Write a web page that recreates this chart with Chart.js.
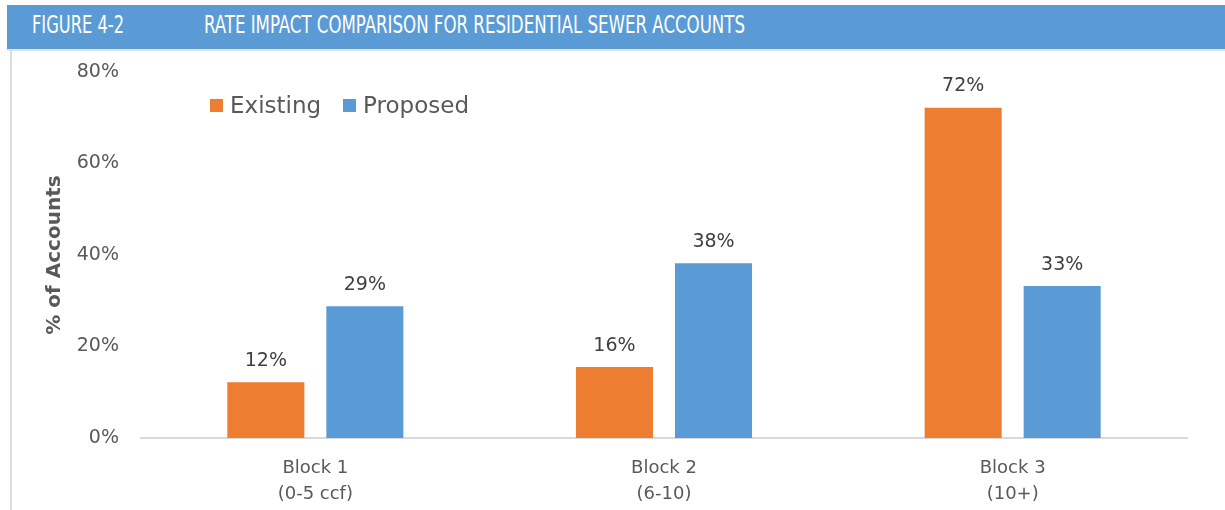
<!DOCTYPE html>
<html>
<head>
<meta charset="utf-8">
<script src="https://cdn.jsdelivr.net/npm/chart.js@4.4.1/dist/chart.umd.min.js"></script>
<style>
  html, body { margin: 0; padding: 0; background: #fff; }
  body { width: 1225px; height: 510px; position: relative; overflow: hidden; }
  #header {
    position: absolute; left: 7px; top: 5px; width: 1218px; height: 44px;
    background: #5b9bd5; border-bottom: 2px solid #e3e3e3; z-index: 2;
  }
  .htxt {
    position: absolute; top: 5px; color: #fff; white-space: nowrap;
    font-family: "DejaVu Sans Condensed", "DejaVu Sans", sans-serif;
    font-size: 25px; line-height: 29px; transform-origin: left top;
  }
  #leftBorder { position: absolute; left: 10px; top: 51px; width: 2px; height: 459px; background: #dcdcdc; z-index: 2; }
  #chartWrap { position: absolute; left: 0; top: 0; width: 1225px; height: 510px; }
  #legend { position: absolute; left: 210px; top: 92px; z-index: 2;
    font-family: "DejaVu Sans", sans-serif; font-size: 23px; color: #595959; }
  #legend span.item { display: inline-block; margin-right: 22px; }
  #legend span.box { display: inline-block; width: 13px; height: 13px; margin-right: 7px; vertical-align: 1px; }
</style>
</head>
<body>
<div id="header">
  <span class="htxt" id="hFig" data-w="92" style="left:25px">FIGURE 4-2</span>
  <span class="htxt" id="hTitle" data-w="541" style="left:197px">RATE IMPACT COMPARISON FOR RESIDENTIAL SEWER ACCOUNTS</span>
</div>
<div id="leftBorder"></div>
<div id="legend"></div>
<div id="chartWrap"><canvas id="chart" width="1225" height="510"></canvas></div>
<script>
// Datos
const categories = [["Block 1", "(0-5 ccf)"], ["Block 2", "(6-10)"], ["Block 3", "(10+)"]];
const existingValues = [12.2, 15.5, 72.2];
const proposedValues = [28.8, 38.2, 33.2];
const seriesNames = ["Existing", "Proposed"];
const seriesColors = ["#ed7d31", "#5b9bd5"];
const yTicks = [0, 20, 40, 60, 80];

const FONT = "'DejaVu Sans', sans-serif";

// Ajusta el ancho del texto del encabezado (fuente condensada)
document.querySelectorAll(".htxt").forEach(el => {
  const w = el.getBoundingClientRect().width;
  el.style.transform = "scaleX(" + (parseFloat(el.dataset.w) / w) + ")";
});

// Leyenda en HTML
const legend = document.getElementById("legend");
seriesNames.forEach((name, i) => {
  legend.innerHTML += '<span class="item"><span class="box" style="background:' +
    seriesColors[i] + '"></span>' + name + '</span>';
});

// Etiquetas de valor encima de cada barra
const valueLabels = {
  id: "valueLabels",
  afterDatasetsDraw(chart) {
    const ctx = chart.ctx;
    ctx.save();
    ctx.font = "19px " + FONT;
    ctx.fillStyle = "#404040";
    ctx.textAlign = "center";
    ctx.textBaseline = "bottom";
    chart.data.datasets.forEach((ds, i) => {
      chart.getDatasetMeta(i).data.forEach((bar, j) => {
        ctx.fillText(Math.round(ds.data[j]) + "%", bar.x, bar.y - 12);
      });
    });
    ctx.restore();
  }
};

const ctx = document.getElementById("chart").getContext("2d");
new Chart(ctx, {
  type: "bar",
  data: {
    labels: categories,
    datasets: [
      { label: seriesNames[0], data: existingValues, backgroundColor: seriesColors[0] },
      { label: seriesNames[1], data: proposedValues, backgroundColor: seriesColors[1] }
    ]
  },
  options: {
    responsive: false,
    animation: false,
    devicePixelRatio: 1,
    categoryPercentage: 0.568,
    barPercentage: 0.778,
    layout: { padding: { left: 0, right: 38, top: 72, bottom: 0 } },
    plugins: {
      legend: { display: false },
      tooltip: { enabled: false }
    },
    scales: {
      x: {
        grid: { display: false },
        border: { display: true, color: "#d9d9d9", width: 2 },
        ticks: { color: "#595959", font: { family: FONT, size: 18, lineHeight: 1.45 }, padding: 9, maxRotation: 0 },
        afterFit: scale => { scale.height = 72; }
      },
      y: {
        min: 0,
        max: 80,
        grid: { display: false, drawTicks: false },
        border: { display: false },
        afterBuildTicks: scale => { scale.ticks = yTicks.map(v => ({ value: v })); },
        ticks: {
          color: "#595959",
          font: { family: FONT, size: 19 },
          padding: 22,
          callback: v => v + "%"
        },
        title: {
          display: true,
          text: "% of Accounts",
          color: "#595959",
          font: { family: FONT, size: 20, weight: "bold" },
          padding: { top: 43, bottom: 0 }
        },
        afterFit: scale => { scale.width = 141; }
      }
    }
  },
  plugins: [valueLabels]
});
</script>
</body>
</html>
